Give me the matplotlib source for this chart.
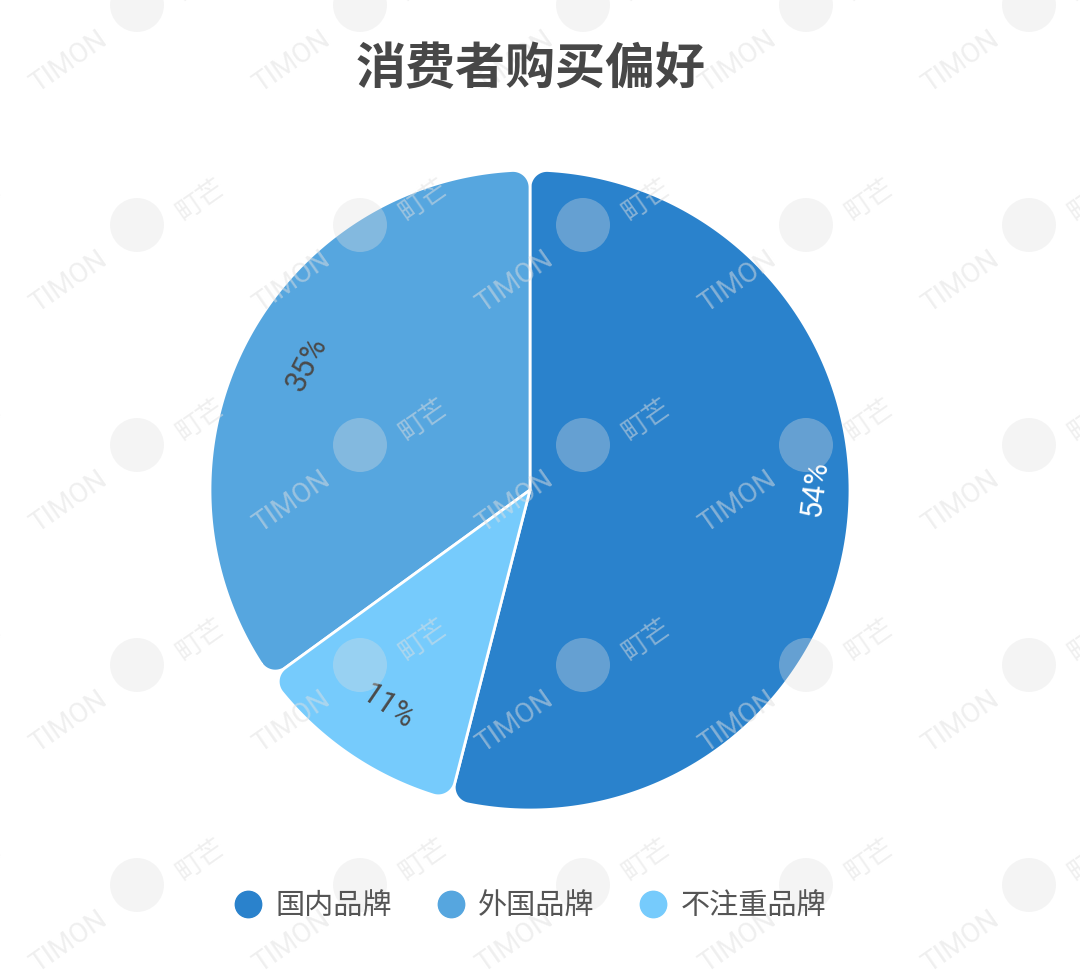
import numpy as np
import matplotlib.pyplot as plt
from matplotlib.patches import Polygon, Circle
from matplotlib.lines import Line2D

plt.rcParams['font.family'] = ['Noto Sans CJK SC', 'DejaVu Sans']

categories = ['国内品牌', '外国品牌', '不注重品牌']
shares = [54, 35, 11]
labels = ['54%', '35%', '11%']
colors = ['#2a82cc', '#56a6df', '#76cbfc']
label_colors = ['white', '#4a4a4a', '#4a4a4a']
# (radius fraction, angle nudge in degrees) for each percentage label
label_pos = [(0.89, 7.6), (0.80, -2.4), (0.81, 0.8)]

W, H = 1080, 976
fig = plt.figure(figsize=(W / 100, H / 100), dpi=100)
ax = fig.add_axes([0, 0, 1, 1])

cx, cy, R = 530, H - 490, 320
start = 90 - 360 * shares[0] / sum(shares)
wedges, _ = ax.pie(shares, colors=colors, startangle=start, counterclock=True,
                   center=(cx, cy), radius=R)
ax.set_xlim(0, W)
ax.set_ylim(0, H)
ax.set_aspect('equal')
ax.axis('off')


def rounded_sector(center, r, t1, t2, rc, n=40):
    # sector with rounded outer corners, sharp apex
    ox, oy = center
    t1, t2 = np.radians(t1), np.radians(t2)
    d = np.arcsin(rc / (r - rc))
    pts = [(ox, oy)]
    c1 = t1 + d
    c1x, c1y = ox + (r - rc) * np.cos(c1), oy + (r - rc) * np.sin(c1)
    for a in np.linspace(t1 - np.pi / 2, c1, n):
        pts.append((c1x + rc * np.cos(a), c1y + rc * np.sin(a)))
    for a in np.linspace(t1 + d, t2 - d, 200):
        pts.append((ox + r * np.cos(a), oy + r * np.sin(a)))
    c2 = t2 - d
    c2x, c2y = ox + (r - rc) * np.cos(c2), oy + (r - rc) * np.sin(c2)
    for a in np.linspace(c2, t2 + np.pi / 2, n):
        pts.append((c2x + rc * np.cos(a), c2y + rc * np.sin(a)))
    return np.array(pts)


for w, col, lab, lc, (fr, nudge) in zip(wedges, colors, labels, label_colors, label_pos):
    pts = rounded_sector(w.center, w.r, w.theta1, w.theta2, 17)
    ax.add_patch(Polygon(pts, closed=True, facecolor=col, edgecolor='white',
                         lw=2, joinstyle='round', zorder=2))
    mid = (w.theta1 + w.theta2) / 2
    rot = (mid - 90) % 360
    if rot > 180:
        rot -= 360
    if rot > 90:
        rot -= 180
    if rot <= -90:
        rot += 180
    ang = np.radians(mid + nudge)
    ax.text(w.center[0] + fr * w.r * np.cos(ang), w.center[1] + fr * w.r * np.sin(ang),
            lab, rotation=rot, rotation_mode='anchor', ha='center', va='center',
            fontsize=22, color=lc, family=['Roboto', 'DejaVu Sans'],
            fontweight='normal', zorder=3)
    w.remove()

fig.text(531 / W, 1 - 70 / H, '消费者购买偏好', fontsize=36, fontweight='bold',
         color='#474747', ha='center', va='center')

handles = [Line2D([], [], marker='o', ls='', markersize=19, markerfacecolor=c,
                  markeredgecolor=c) for c in colors]
fig.legend(handles, categories, loc='center', bbox_to_anchor=(530 / W, 1 - 906 / H),
           ncol=3, frameon=False, fontsize=21, handlelength=1.0, handletextpad=0.45,
           columnspacing=1.5, labelcolor='#555555')

# faint watermark tiles
wm = '#e0e0e0'
for i in range(-1, 6):
    for j in range(0, 6):
        lx, ly = 137 + 223 * i, 5 + 220 * j
        ax.add_patch(Circle((lx, H - ly), 27, facecolor=wm, edgecolor='none',
                            alpha=0.33, zorder=10))
        ax.text(lx + 63, H - (ly - 25), '町芒', rotation=35, fontsize=19, color=wm,
                alpha=0.5, ha='center', va='center', zorder=10)
        ax.text(lx - 68, H - (ly + 57), 'TIMON', rotation=35, fontsize=20, color=wm,
                alpha=0.5, ha='center', va='center', zorder=10,
                family=['Roboto', 'DejaVu Sans'])

fig.savefig('out.png', dpi=100)
